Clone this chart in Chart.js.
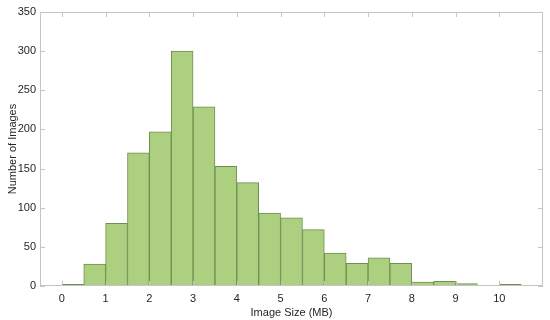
<!DOCTYPE html>
<html>
<head>
<meta charset="utf-8">
<script src="https://cdn.jsdelivr.net/npm/chart.js@4"></script>
<style>
  html, body { margin: 0; padding: 0; background: #fff; }
  #wrap { width: 550px; height: 320px; }
</style>
</head>
<body>
<div id="wrap"><canvas id="chart" width="550" height="320"></canvas></div>
<script>
// histogram bins (MB), bin width 0.5
const binStarts = [0, 0.5, 1, 1.5, 2, 2.5, 3, 3.5, 4, 4.5, 5, 5.5, 6, 6.5, 7, 7.5, 8, 8.5, 9, 9.5, 10];
const counts    = [2, 28, 80, 170, 197, 300, 229, 153, 132, 93, 87, 72, 42, 29, 36, 29, 5, 6, 3, null, 2];
const binWidth = 0.5;
const xTicks = [0, 1, 2, 3, 4, 5, 6, 7, 8, 9, 10];
const yTicks = [0, 50, 100, 150, 200, 250, 300, 350];

const FONT = 'Liberation Sans, Arial, sans-serif';
const TEXT = '#262626';
const BOX = '#c4c4c4';

// box around the plot + inward tick marks (matlab look)
const boxPlugin = {
  id: 'box',
  afterDraw(chart) {
    const { ctx, chartArea: a, scales } = chart;
    ctx.save();
    ctx.strokeStyle = BOX;
    ctx.lineWidth = 1;
    ctx.strokeRect(a.left + 0.5, a.top + 0.5, a.right - a.left - 1, a.bottom - a.top - 1);
    ctx.beginPath();
    xTicks.forEach(v => {
      const x = Math.round(scales.x.getPixelForValue(v)) + 0.5;
      ctx.moveTo(x, a.bottom); ctx.lineTo(x, a.bottom - 5);
      ctx.moveTo(x, a.top); ctx.lineTo(x, a.top + 5);
    });
    yTicks.forEach(v => {
      const y = Math.round(scales.y.getPixelForValue(v)) + 0.5;
      ctx.moveTo(a.left, y); ctx.lineTo(a.left + 5, y);
      ctx.moveTo(a.right, y); ctx.lineTo(a.right - 5, y);
    });
    ctx.stroke();
    ctx.restore();
  }
};

new Chart(document.getElementById('chart').getContext('2d'), {
  type: 'bar',
  data: {
    datasets: [{
      data: binStarts.map((b, i) => ({ x: b + binWidth / 2, y: counts[i] })),
      backgroundColor: '#acd080',
      borderColor: '#6e8f4e',
      borderWidth: 1,
      borderSkipped: 'bottom',
      barPercentage: 1,
      categoryPercentage: 1,
    }]
  },
  options: {
    responsive: false,
    animation: false,
    layout: { padding: { top: 12, right: 7, left: 0, bottom: 0 } },
    plugins: { legend: { display: false }, tooltip: { enabled: false } },
    scales: {
      x: {
        type: 'linear',
        min: -0.5,
        max: 11,
        offset: false,
        afterBuildTicks: s => { s.ticks = xTicks.map(v => ({ value: v })); },
        afterFit: s => { s.height = 34; },
        grid: { display: false, drawTicks: false },
        border: { display: false },
        ticks: { color: TEXT, font: { family: FONT, size: 11 }, padding: 6, maxRotation: 0 },
        title: { display: true, text: 'Image Size (MB)', color: TEXT, font: { family: FONT, size: 11 }, padding: { top: 1, bottom: 0 } }
      },
      y: {
        min: 0,
        max: 350,
        afterBuildTicks: s => { s.ticks = yTicks.map(v => ({ value: v })); },
        afterFit: s => { s.width = 40; },
        grid: { display: false, drawTicks: false },
        border: { display: false },
        ticks: { color: TEXT, font: { family: FONT, size: 11 }, padding: 4 },
        title: { display: true, text: 'Number of Images', color: TEXT, font: { family: FONT, size: 11 }, padding: { top: 6, bottom: 0 } }
      }
    }
  },
  plugins: [boxPlugin]
});
</script>
</body>
</html>
